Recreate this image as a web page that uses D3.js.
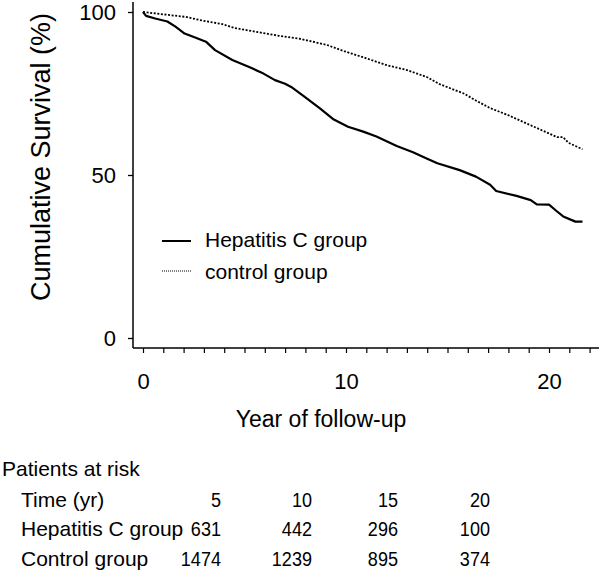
<!DOCTYPE html>
<html>
<head>
<meta charset="utf-8">
<script src="https://cdn.jsdelivr.net/npm/d3@7"></script>
<style>
  html, body { margin: 0; padding: 0; background: #fff; }
  svg { display: block; }
  text { font-family: "Liberation Sans", Arial, Helvetica, sans-serif; fill: #000; }
</style>
</head>
<body>
<svg id="chart" width="600" height="572"></svg>
<script>
// ---- Data ----
const hepTimes  = [0, 0.15, 0.6, 1.2, 1.6, 2.05, 2.6, 3.1, 3.55, 4.4, 5.2, 5.85, 6.5, 7.0, 7.3, 7.9, 8.7, 9.4, 10.1, 10.85, 11.5, 12.5, 13.3, 14.0, 14.5, 15.6, 16.4, 17.1, 17.4, 18.4, 19.1, 19.4, 20.0, 20.4, 20.7, 21.3, 21.65];
const hepSurv   = [100, 98.8, 98.0, 97.1, 95.5, 93.4, 92.1, 90.9, 88.3, 85.3, 83.2, 81.4, 79.1, 78.0, 77.0, 74.3, 70.5, 67.0, 64.8, 63.3, 61.8, 58.9, 57.0, 55.0, 53.6, 51.5, 49.5, 47.0, 45.1, 43.6, 42.3, 41.0, 40.9, 38.8, 37.3, 35.7, 35.7];
const ctrlTimes = [0, 1.25, 2.1, 2.9, 3.9, 4.5, 5.5, 6.8, 7.8, 9.05, 9.9, 11.0, 12.0, 13.0, 14.0, 14.6, 15.8, 16.3, 17.1, 17.9, 18.9, 19.8, 20.4, 20.7, 20.95, 21.65];
const ctrlSurv  = [100, 99.1, 98.5, 97.4, 96.3, 95.1, 94.0, 92.6, 91.7, 89.9, 88.0, 85.8, 83.7, 82.2, 80.0, 77.9, 75.0, 73.2, 70.5, 68.6, 65.8, 63.3, 61.6, 61.6, 59.9, 57.9];

const seriesNames = ["Hepatitis C group", "control group"];
const yTickValues = [0, 50, 100];
const xMajorTicks = [0, 10, 20];
const xMinorTicks = d3.range(0, 23);

const riskTitle   = "Patients at risk";
const riskTimeLabel = "Time (yr)";
const riskTimes   = [5, 10, 15, 20];
const riskRowNames = ["Hepatitis C group", "Control group"];
const riskHep     = [631, 442, 296, 100];
const riskCtrl    = [1474, 1239, 895, 374];

const yTitle = "Cumulative Survival (%)";
const xTitle = "Year of follow-up";

// ---- Drawing ----
const svg = d3.select("#chart");
const x = d3.scaleLinear().domain([0, 22]).range([143, 143 + 22 * 20.3]);
const y = d3.scaleLinear().domain([0, 100]).range([338, 12]);

// Y axis
const yAxis = svg.append("g").attr("transform", "translate(133,0)")
  .call(d3.axisLeft(y).tickValues(yTickValues).tickSize(5).tickPadding(12).tickFormat(d3.format("d")));
yAxis.select(".domain").remove();
yAxis.selectAll("line").attr("stroke", "#000").attr("stroke-width", 1.3);
yAxis.selectAll("text").style("font-size", "22px").attr("dy", "0.36em");
svg.append("line").attr("x1", 133).attr("x2", 133).attr("y1", 2).attr("y2", 348)
  .attr("stroke", "#000").attr("stroke-width", 1.5);

// X axis
const xAxis = svg.append("g").attr("transform", "translate(0,348)")
  .call(d3.axisBottom(x).tickValues(xMinorTicks).tickSize(5).tickPadding(20)
    .tickFormat(d => xMajorTicks.includes(d) ? d : ""));
xAxis.select(".domain").remove();
xAxis.selectAll("line").attr("stroke", "#000").attr("stroke-width", 1.2);
xAxis.selectAll("text").style("font-size", "22px");
svg.append("line").attr("x1", 133).attr("x2", 599).attr("y1", 348).attr("y2", 348)
  .attr("stroke", "#000").attr("stroke-width", 1.5);

// Axis titles
svg.append("text")
  .attr("transform", "translate(50,157) rotate(-90)")
  .attr("text-anchor", "middle")
  .style("font-size", "27px")
  .text(yTitle);
svg.append("text")
  .attr("x", 321).attr("y", 427)
  .attr("text-anchor", "middle")
  .style("font-size", "23px")
  .text(xTitle);

// Curves
const line = d3.line().x(d => x(d[0])).y(d => y(d[1])).curve(d3.curveLinear);
const hepData = hepTimes.map((t, i) => [t, hepSurv[i]]);
const ctrlData = ctrlTimes.map((t, i) => [t, ctrlSurv[i]]);

svg.append("path").datum(ctrlData).attr("d", line)
  .attr("fill", "none").attr("stroke", "#000").attr("stroke-width", 1.8)
  .attr("stroke-dasharray", "2,1.6");
svg.append("path").datum(hepData).attr("d", line)
  .attr("fill", "none").attr("stroke", "#000").attr("stroke-width", 2.2)
  .attr("stroke-linejoin", "round");

// Legend
const legend = svg.append("g");
legend.append("line").attr("x1", 162).attr("x2", 191).attr("y1", 241).attr("y2", 241)
  .attr("stroke", "#000").attr("stroke-width", 2);
legend.append("text").attr("x", 205).attr("y", 247).style("font-size", "21px").text(seriesNames[0]);
legend.append("line").attr("x1", 162).attr("x2", 191).attr("y1", 271).attr("y2", 271)
  .attr("stroke", "#000").attr("stroke-width", 1).attr("stroke-dasharray", "1,1");
legend.append("text").attr("x", 205).attr("y", 279).style("font-size", "21px").text(seriesNames[1]);

// Risk table
const colRight = [221, 312, 398, 490];
svg.append("text").attr("x", 2).attr("y", 476).style("font-size", "21px").text(riskTitle);
const rows = [
  { label: riskTimeLabel, vals: riskTimes, y: 507 },
  { label: riskRowNames[0], vals: riskHep, y: 536 },
  { label: riskRowNames[1], vals: riskCtrl, y: 566 }
];
rows.forEach(r => {
  svg.append("text").attr("x", 21).attr("y", r.y).style("font-size", "21px").text(r.label);
  r.vals.forEach((v, i) => {
    svg.append("text")
      .attr("transform", `translate(${colRight[i]},${r.y}) scale(0.86,1)`)
      .attr("text-anchor", "end").style("font-size", "21px").text(v);
  });
});
</script>
</body>
</html>
